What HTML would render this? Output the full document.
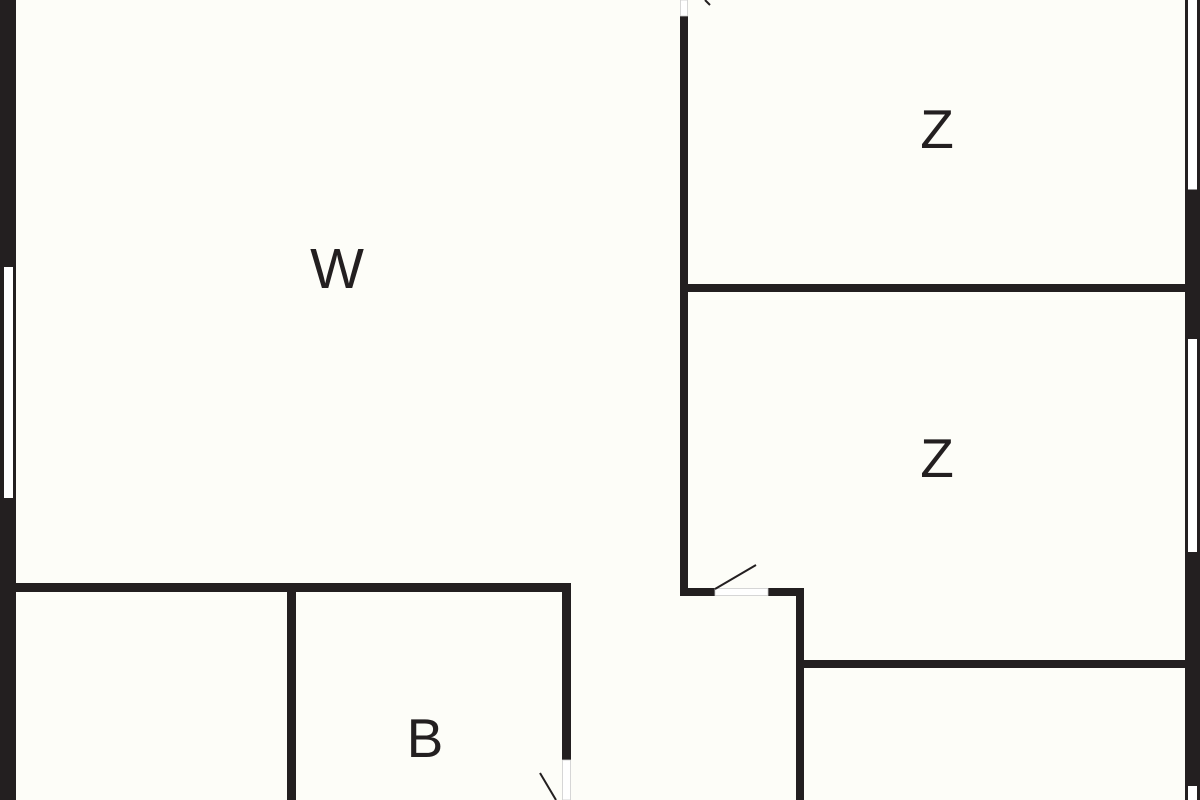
<!DOCTYPE html>
<html><head><meta charset="utf-8"><style>
html,body{margin:0;padding:0;background:#fdfdf8;}
svg{display:block}
</style></head><body>
<svg width="1200" height="800" viewBox="0 0 1200 800" xmlns="http://www.w3.org/2000/svg">
<rect width="1200" height="800" fill="#fdfdf8"/>
<g fill="#231f20">
<!-- left outer wall -->
<rect x="0" y="0" width="16" height="800"/>
<!-- right outer wall -->
<rect x="1185" y="0" width="15" height="800"/>
<!-- interior walls -->
<rect x="680" y="16" width="8" height="580"/>
<rect x="680" y="284" width="505" height="8"/>
<rect x="680" y="588" width="35" height="8"/>
<rect x="768" y="588" width="35" height="8"/>
<rect x="796" y="588" width="8" height="212"/>
<rect x="796" y="660" width="389" height="8"/>
<rect x="16" y="583" width="555" height="9"/>
<rect x="562" y="583" width="9" height="177"/>
<rect x="287" y="583" width="9" height="217"/>
</g>
<!-- windows -->
<g fill="#fff" stroke="#231f20" stroke-width="1">
<rect x="3.5" y="266.5" width="10" height="232"/>
<rect x="1187.5" y="-1" width="10" height="191"/>
<rect x="1187.5" y="338.5" width="10" height="214"/>
<rect x="1187.5" y="785.5" width="10" height="20"/>
</g>
<!-- door openings -->
<g fill="#fff" stroke="#ccc" stroke-width="0.8">
<rect x="715" y="588.5" width="53" height="7"/>
<rect x="680.5" y="0" width="7" height="16"/>
<rect x="562.5" y="760" width="8" height="40"/>
</g>
<g stroke="#231f20" stroke-width="2" fill="none">
<line x1="715" y1="589" x2="756" y2="565"/>
<line x1="540" y1="773" x2="556" y2="800"/>
<line x1="705" y1="0" x2="710" y2="5"/>
</g>
<g font-family="Liberation Sans, sans-serif" fill="#231f20" text-anchor="middle">
<text x="337" y="288" font-size="57">W</text>
<text x="937" y="148" font-size="55">Z</text>
<text x="937" y="477" font-size="55">Z</text>
<text x="425" y="757" font-size="55">B</text>
</g>
</svg>
</body></html>
